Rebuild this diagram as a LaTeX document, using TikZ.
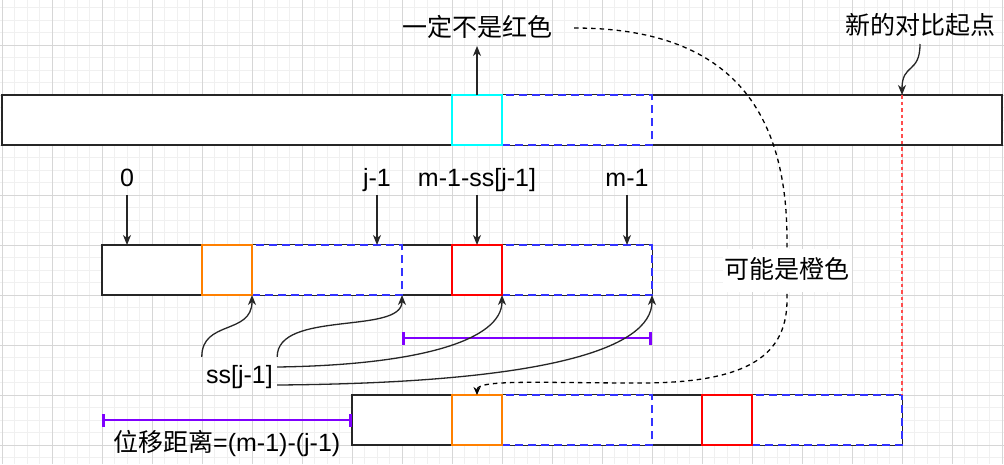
\documentclass[tikz,border=0pt]{standalone}
\usepackage{fontspec}
\setmainfont{Liberation Sans}
\newfontfamily\cjk{Noto Sans CJK SC}
\usetikzlibrary{arrows.meta}
\newcommand{\labelsize}{\fontsize{25pt}{30pt}\selectfont}
\definecolor{winblue}{HTML}{3333FF}
\definecolor{keyorange}{HTML}{FF8000}
\definecolor{keyred}{HTML}{FF0000}
\definecolor{keycyan}{HTML}{00FFFF}
\definecolor{spanpurple}{HTML}{7F00FF}
\definecolor{cutred}{HTML}{FF4D4D}
\tikzset{
  cell/.style={draw=black!85, line width=1.4pt, fill=white, minimum height=50pt, inner sep=0pt, outer sep=0pt},
  box/.style={cell, line width=2.8pt, minimum width=50pt},
  win/.style={cell, draw=winblue, line width=2.8pt, dash pattern=on 8pt off 5pt, minimum width=150pt},
  lbl/.style={font=\labelsize, inner sep=0pt, outer ysep=9pt, text depth=0pt, anchor=base},
  cjklbl/.style={font=\cjk\labelsize, inner sep=0pt, outer ysep=6.5pt, text height=20pt, text depth=3pt},
  ptr/.style={-{Stealth[length=10pt,width=8pt,inset=3pt]}, line width=1.3pt, black!85},
  hint/.style={-{Stealth[length=8pt,width=7pt,inset=2.5pt]}, line width=1.3pt, dash pattern=on 4.5pt off 4pt},
  span/.style={{Bar[width=13pt]}-{Bar[width=13pt]}, line width=2.8pt, spanpurple},
  cut/.style={cutred, line width=1.4pt, dash pattern=on 3.5pt off 3pt},
  minorgrid/.style={black!6, line width=1pt},
  majorgrid/.style={black!16, line width=1pt},
}
\begin{document}
\begin{tikzpicture}[x=1pt,y=-1pt]
    \useasboundingbox (0,0) rectangle (1004,464);
    \fill[white] (0,0) rectangle (1004,464);
    % background grid
    \foreach \k in {0,...,80} \draw[minorgrid] (2+12.5*\k,0) -- (2+12.5*\k,464);
    \foreach \k in {0,...,36} \draw[minorgrid] (0,7.5+12.5*\k) -- (1004,7.5+12.5*\k);
    \foreach \k in {0,...,20} \draw[majorgrid] (2+50*\k,0) -- (2+50*\k,464);
    \foreach \k in {0,...,8} \draw[majorgrid] (0,45+50*\k) -- (1004,45+50*\k);

    % text
    \node[cell, minimum width=1000pt] (bar1) at (502,120) {};
    \node[win] (d1) at (577,120) {};
    \node[box, draw=keycyan] (c1) at (477,120) {};

    % pattern
    \node[cell, minimum width=550pt] (bar2) at (377,270) {};
    \node[win] (d2) at (327,270) {};
    \node[win] (d3) at (577,270) {};
    \node[box, draw=keyorange] (o1) at (227,270) {};
    \node[box, draw=keyred] (r1) at (477,270) {};

    % pattern after the shift
    \node[cell, minimum width=550pt] (bar3) at (627,420) {};
    \node[win] (d4) at (577,420) {};
    \node[win] (d5) at (827,420) {};
    \node[box, draw=keyorange] (o2) at (477,420) {};
    \node[box, draw=keyred] (r2) at (727,420) {};

    \coordinate (np) at (bar1.north -| bar3.east);
    \draw[cut] (np) -- (bar3.north east);

    % index labels
    \node[lbl] (l0) at (127,186) {0};
    \node[lbl] (lj) at (377,186) {j-1};
    \node[lbl] (lm) at (477,186) {m-1-ss[j-1]};
    \node[lbl] (lm1) at (627,186) {m-1};
    \foreach \n in {l0,lj,lm,lm1} \draw[ptr] (\n.south) -- (\n.south |- bar2.north);

    \node[cjklbl] (t1) at (477,28) {一定不是红色};
    \draw[ptr] (c1.north) -- (t1.south);
    \node[cjklbl] (t3) at (920,26) {新的对比起点};
    \draw[ptr] (t3.south) .. controls +(0,30) and +(0,-32) .. (np);

    % shift distances
    \draw[span] ([yshift=-43pt]d2.south east) -- ([yshift=-43pt]d3.south east);
    \draw[span] ([xshift=-250pt]bar3.west) -- (bar3.west);
    \node[font=\labelsize, inner sep=0pt, anchor=base west] (dist) at (113,451) {{\cjk 位移距离}=(m-1)-(j-1)};

    \node[font=\labelsize, minimum width=75pt, minimum height=40pt, inner sep=0pt] (ss) at (239.5,377) {ss[j-1]};
    \draw[ptr] (ss.north west) .. controls +(0,-37) and +(0,40) .. (o1.south east);
    \draw[ptr] (ss.north east) .. controls +(0,-47) and +(0,40) .. (d2.south east);
    \draw[ptr] ([yshift=10pt]ss.east) .. controls +(143,-2) and +(0,45) .. (r1.south east);
    \draw[ptr] ([yshift=-8pt]ss.east) .. controls +(263,-2) and +(0,55) .. (d3.south east);

    \draw[hint] ([xshift=22pt]t1.east) .. controls +(156,0) and +(0,-130) .. (787,240)
        -- node[cjklbl, fill=white, inner ysep=10pt, inner xsep=2pt, outer ysep=0pt] (t2) {可能是橙色} (787,300)
        .. controls +(0,60) and +(100,0) .. (640,383)
        .. controls +(-100,0) and +(0,-16) .. (o2.north);
\end{tikzpicture}
\end{document}
